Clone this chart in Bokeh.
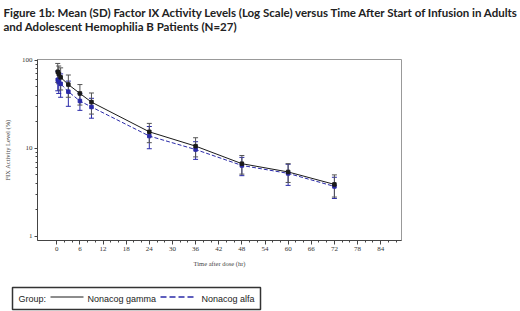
from bokeh.plotting import figure
from bokeh.models import (ColumnDataSource, Whisker, TeeHead, FixedTicker, NumeralTickFormatter,
                          Range1d)
from bokeh.layouts import column, row
from bokeh.embed import file_html
from bokeh.resources import INLINE
from bokeh.core.properties import value

# ---------------- data ----------------
title_lines = [
    "Figure 1b: Mean (SD) Factor IX Activity Levels (Log Scale) versus Time After Start of Infusion in Adults",
    "and Adolescent Hemophilia B Patients (N=27)",
]
x_label = "Time after dose (hr)"
y_label = "FIX Activity Level (%)"
legend_title = "Group:"
legend_labels = ["Nonacog gamma", "Nonacog alfa"]

times = [0.25, 0.5, 1, 3, 6, 9, 24, 36, 48, 60, 72]
gamma_mean = [74, 70, 64, 53, 42, 33.5, 15.4, 10.6, 6.7, 5.4, 3.9]
gamma_sd = [18, 16, 18, 15, 11, 9, 3.8, 2.6, 1.6, 1.3, 1.1]
alfa_mean = [60, 57, 54, 44, 34.5, 29.5, 13.8, 9.7, 6.4, 5.2, 3.7]
alfa_sd = [15, 15, 16, 14, 7.5, 7.5, 3.9, 2.2, 1.5, 1.4, 1.0]

x_ticks = list(range(0, 85, 6))
x_minor = list(range(0, 91, 2))
y_ticks = [1, 10, 100]
y_minor = [2, 3, 4, 5, 6, 7, 8, 9, 20, 30, 40, 50, 60, 70, 80, 90]

# ---------------- styles ----------------
W = 520
TITLE_H, MAIN_H, LEG_H = 55, 225, 31
FL, FR = 34, 401                  # frame left/right in canvas px
FT, FB = 59 - TITLE_H, 240 - TITLE_H  # frame top/bottom inside the main figure
GAMMA = "#1a1a1a"
GAMMA_BAR = "#555555"
ALFA = "#2a2aa8"
SERIF = "Liberation Serif"
SANS = "Liberation Sans"


def strip(h):
    f = figure(width=W, height=h, x_range=Range1d(0, W), y_range=Range1d(h, 0),
               x_axis_location=None, y_axis_location=None,
               output_backend="svg", toolbar_location=None, min_border=0)
    f.grid.visible = False
    f.outline_line_color = None
    return f


# ---------------- title strip ----------------
tf = strip(TITLE_H)
tf.text(x=[3, 3], y=[11.5, 26], text=title_lines, text_font=value("Lato"),
        text_font_style="bold", text_font_size="11.5px", text_baseline="alphabetic",
        text_color="#222222")

# ---------------- main plot ----------------
p = figure(width=W, height=MAIN_H, x_range=Range1d(-5, 89.4), y_range=Range1d(0.9, 102),
           y_axis_type="log", output_backend="svg", toolbar_location=None,
           min_border_left=FL, min_border_right=W - FR, min_border_top=FT,
           min_border_bottom=MAIN_H - FB)
p.grid.visible = False
p.outline_line_color = "#999999"

src_g = ColumnDataSource(dict(t=times, m=gamma_mean,
                              lo=[m - s for m, s in zip(gamma_mean, gamma_sd)],
                              hi=[m + s for m, s in zip(gamma_mean, gamma_sd)]))
src_a = ColumnDataSource(dict(t=times, m=alfa_mean,
                              lo=[m - s for m, s in zip(alfa_mean, alfa_sd)],
                              hi=[m + s for m, s in zip(alfa_mean, alfa_sd)]))

for src, col in ((src_a, ALFA), (src_g, GAMMA_BAR)):
    w = Whisker(base="t", lower="lo", upper="hi", source=src, line_color=col, line_width=1,
                upper_head=TeeHead(size=5, line_color=col, line_width=1),
                lower_head=TeeHead(size=5, line_color=col, line_width=1))
    p.add_layout(w)

p.line("t", "m", source=src_a, line_color=ALFA, line_width=1, line_dash="4 2")
p.line("t", "m", source=src_g, line_color=GAMMA, line_width=1)
p.scatter("t", "m", source=src_a, marker="square", size=3.5, color=ALFA)
p.scatter("t", "m", source=src_g, marker="square", size=3.5, color=GAMMA)

for ax in (p.xaxis[0], p.yaxis[0]):
    ax.axis_line_color = "#444444"
    ax.major_tick_line_color = "#444444"
    ax.minor_tick_line_color = "#444444"
    ax.major_label_text_font = SERIF
    ax.major_label_text_font_size = "7px"
    ax.major_label_text_color = "#333333"
    ax.axis_label_text_font = SERIF
    ax.axis_label_text_font_size = "6.5px"
    ax.axis_label_text_font_style = "normal"
    ax.axis_label_text_color = "#444444"
    ax.major_label_standoff = 2

p.xaxis.ticker = FixedTicker(ticks=x_ticks, minor_ticks=x_minor)
p.xaxis.major_tick_out = 4
p.xaxis.major_tick_in = 0
p.xaxis.minor_tick_out = 2
p.xaxis.minor_tick_in = 0
p.xaxis.axis_label = x_label
p.xaxis.axis_label_standoff = 6

p.yaxis.ticker = FixedTicker(ticks=y_ticks, minor_ticks=y_minor)
p.yaxis.formatter = NumeralTickFormatter(format="0")
p.yaxis.major_tick_out = 3
p.yaxis.major_tick_in = 0
p.yaxis.minor_tick_out = 2
p.yaxis.minor_tick_in = 0
p.yaxis.axis_label = y_label
p.yaxis.axis_label_standoff = 8

# ---------------- legend strip ----------------
lf = strip(LEG_H)
lf.quad(left=[12], right=[260], top=[7], bottom=[29], fill_color="white",
        line_color="#333333", line_width=1.5)
lf.text(x=[18, 87, 201], y=[18.5, 18.5, 18.5],
        text=[legend_title, legend_labels[0], legend_labels[1]],
        text_font=value(SANS), text_font_size="9px",
        text_baseline="middle", text_color="#222222")
lf.line(x=[50, 83], y=[16.5, 16.5], line_color=GAMMA, line_width=1)
lf.line(x=[160, 195], y=[16.5, 16.5], line_color=ALFA, line_width=1.5, line_dash="6 3")

layout = column(row(tf), row(p), row(lf), spacing=0)
open("out.html", "w").write(file_html(layout, INLINE))
